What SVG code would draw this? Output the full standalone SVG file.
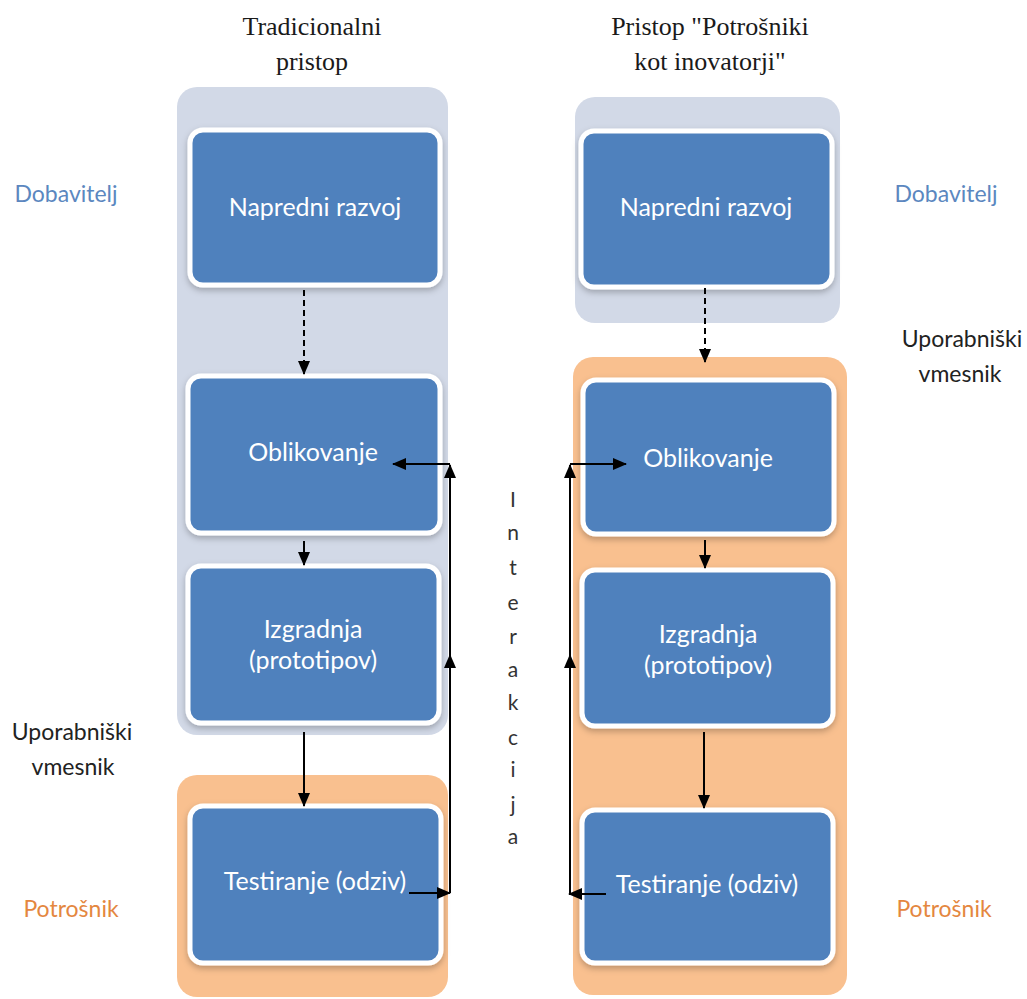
<svg xmlns="http://www.w3.org/2000/svg" width="1027" height="999" viewBox="0 0 1027 999">
<style>
.title{font-family:"Liberation Serif","Times New Roman",serif;font-size:26px;fill:#1a1a1a;text-anchor:middle}
.ntext{font-family:Lato,"Open Sans",sans-serif;font-size:25px;fill:#ffffff;text-anchor:middle}
.node{fill:#4f81bd;stroke:#ffffff;stroke-width:5}
.gray{fill:#d2d9e7}
.orange{fill:#f9c08f}
.lbl{font-family:Lato,"Open Sans",sans-serif;font-size:23px;text-anchor:middle}
.blue{fill:#5b87c0}
.org{fill:#e4873f}
.dark{fill:#222222}
.inter{font-family:Lato,"Open Sans",sans-serif;font-size:21px;fill:#333333;text-anchor:middle}
.ln{stroke:#000;stroke-width:2;fill:none}
</style>
<defs>
<marker id="ah" markerUnits="userSpaceOnUse" markerWidth="14" markerHeight="12" refX="13" refY="6" orient="auto">
<path d="M0,0 L14,6 L0,12 Z" fill="#000"/>
</marker>
<filter id="sh" x="-10%" y="-10%" width="120%" height="125%">
<feDropShadow dx="0" dy="3" stdDeviation="3" flood-color="#000" flood-opacity="0.25"/>
</filter>
</defs>

<g id="containers">
<rect class="gray" x="177" y="87" width="271" height="648" rx="20"/>
<rect class="orange" x="177" y="775" width="271" height="222" rx="20"/>
<rect class="gray" x="575" y="97" width="265" height="226" rx="20"/>
<rect class="orange" x="573" y="357" width="274" height="638" rx="20"/>
</g>

<g id="titles">
<text class="title" x="312" y="35">Tradicionalni</text>
<text class="title" x="312" y="70">pristop</text>
<text class="title" x="710" y="35">Pristop "Potrošniki</text>
<text class="title" x="710" y="70">kot inovatorji"</text>
</g>

<g id="labels">
<text class="lbl blue" x="66" y="202">Dobavitelj</text>
<text class="lbl blue" x="946" y="202">Dobavitelj</text>
<text class="lbl dark" x="962" y="347">Uporabniški</text>
<text class="lbl dark" x="960" y="382">vmesnik</text>
<text class="lbl dark" x="72" y="740">Uporabniški</text>
<text class="lbl dark" x="73" y="775">vmesnik</text>
<text class="lbl org" x="71" y="917">Potrošnik</text>
<text class="lbl org" x="944" y="917">Potrošnik</text>
</g>

<g id="L1"><rect class="node" filter="url(#sh)" x="190" y="130" width="250" height="155" rx="13"/><text class="ntext" x="315" y="216">Napredni razvoj</text></g>
<g id="L2"><rect class="node" filter="url(#sh)" x="188" y="376" width="252" height="157" rx="13"/><text class="ntext" x="313" y="461">Oblikovanje</text></g>
<g id="L3"><rect class="node" filter="url(#sh)" x="188" y="566" width="251" height="157" rx="13"/><text class="ntext" x="313" y="638">Izgradnja</text><text class="ntext" x="313" y="669">(prototipov)</text></g>
<g id="L4"><rect class="node" filter="url(#sh)" x="190" y="806" width="251" height="157" rx="13"/><text class="ntext" x="315" y="890">Testiranje (odziv)</text></g>

<g id="R1"><rect class="node" filter="url(#sh)" x="581" y="131" width="251" height="156" rx="13"/><text class="ntext" x="706" y="216">Napredni razvoj</text></g>
<g id="R2"><rect class="node" filter="url(#sh)" x="583" y="380" width="251" height="154" rx="13"/><text class="ntext" x="708" y="467">Oblikovanje</text></g>
<g id="R3"><rect class="node" filter="url(#sh)" x="582" y="570" width="251" height="156" rx="13"/><text class="ntext" x="708" y="643">Izgradnja</text><text class="ntext" x="708" y="674">(prototipov)</text></g>
<g id="R4"><rect class="node" filter="url(#sh)" x="582" y="810" width="251" height="153" rx="13"/><text class="ntext" x="707" y="893">Testiranje (odziv)</text></g>

<g id="interakcija">
<text class="inter" x="513" y="507">I</text>
<text class="inter" x="513" y="540">n</text>
<text class="inter" x="513" y="575">t</text>
<text class="inter" x="513" y="610">e</text>
<text class="inter" x="513" y="644">r</text>
<text class="inter" x="513" y="677">a</text>
<text class="inter" x="513" y="710">k</text>
<text class="inter" x="513" y="745">c</text>
<text class="inter" x="513" y="777">i</text>
<text class="inter" x="513" y="812">j</text>
<text class="inter" x="513" y="844">a</text>
</g>

<g id="connectors">
<path class="ln" d="M304,290 V374" stroke-dasharray="6,4" marker-end="url(#ah)"/>
<path class="ln" d="M304,541 V565" marker-end="url(#ah)"/>
<path class="ln" d="M304,732 V806" marker-end="url(#ah)"/>
<path class="ln" d="M705,288 V362" stroke-dasharray="6,4" marker-end="url(#ah)"/>
<path class="ln" d="M705,540 V568" marker-end="url(#ah)"/>
<path class="ln" d="M704,732 V808" marker-end="url(#ah)"/>

<path class="ln" d="M409,893 H450" marker-end="url(#ah)"/>
<path class="ln" d="M450,893 V655" marker-end="url(#ah)"/>
<path class="ln" d="M450,668 V465" marker-end="url(#ah)"/>
<path class="ln" d="M450,464 H393" marker-end="url(#ah)"/>

<path class="ln" d="M606,894 H569" marker-end="url(#ah)"/>
<path class="ln" d="M570,894 V655" marker-end="url(#ah)"/>
<path class="ln" d="M570,668 V465" marker-end="url(#ah)"/>
<path class="ln" d="M570,464 H626" marker-end="url(#ah)"/>
</g>
</svg>
